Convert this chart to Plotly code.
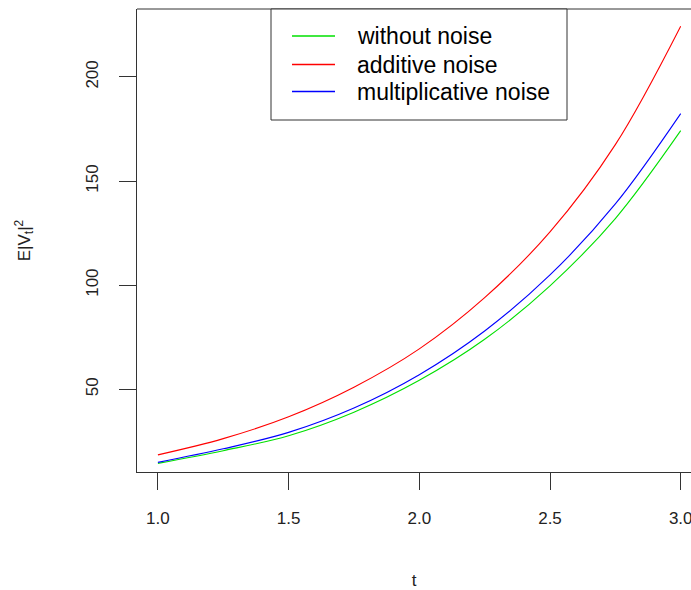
import plotly.graph_objects as go

# time grid and second moment E|V_t|^2 for the three cases
t = [1.0, 1.25, 1.5, 1.75, 2.0, 2.25, 2.5, 2.75, 3.0]
without_noise = [14.4, 20.5, 27.7, 39.0, 54.3, 74.0, 99.7, 132.0, 174.2]
additive_noise = [18.5, 26.3, 36.8, 51.0, 69.4, 94.0, 125.6, 167.5, 224.4]
multiplicative_noise = [14.9, 21.4, 29.3, 41.0, 57.0, 78.0, 104.9, 139.0, 182.4]

series_names = ["without noise", "additive noise", "multiplicative noise"]
series_values = [without_noise, additive_noise, multiplicative_noise]
series_colors = ["#00E000", "#FF0000", "#0000FF"]

x_ticks = [1.0, 1.5, 2.0, 2.5, 3.0]
x_tick_text = ["1.0", "1.5", "2.0", "2.5", "3.0"]
y_ticks = [50, 100, 150, 200]

W, H = 691, 590
ML, MR, MT, MB = 137, 0, 9, 118
PW, PH = W - ML - MR, H - MT - MB

FONT = "Liberation Sans, Arial, sans-serif"
AXIS_COLOR = "#333333"


def px_x(px):
    return (px - ML) / PW


def px_y(py):
    return (H - MB - py) / PH


# y range padded by 4% of the additive-noise range (R style)
ymin, ymax = min(additive_noise), max(additive_noise)
pad = 0.04 * (ymax - ymin)
y_range = [ymin - pad, ymax + pad]
x_range = [1.0 - 0.08, 3.0 + (W - 680.7) / 261.2]

fig = go.Figure()
for name, vals, col in zip(series_names, series_values, series_colors):
    fig.add_trace(go.Scatter(
        x=t, y=vals, mode="lines", name=name,
        line=dict(color=col, width=1.1, shape="spline", smoothing=1.0),
        showlegend=False,
    ))

shapes = [
    # top edge of the frame (left/bottom come from the axis lines)
    dict(type="line", xref="paper", yref="paper", x0=0, x1=1.05, y0=1, y1=1,
         line=dict(color=AXIS_COLOR, width=1)),
    # legend frame
    dict(type="rect", xref="paper", yref="paper",
         x0=px_x(271), x1=px_x(567), y0=px_y(120), y1=px_y(9),
         line=dict(color=AXIS_COLOR, width=1), fillcolor="white", layer="above"),
]
annotations = []
legend_rows = [36, 64.5, 91.5]
for name, col, ry in zip(series_names, series_colors, legend_rows):
    shapes.append(dict(type="line", xref="paper", yref="paper",
                       x0=px_x(292), x1=px_x(335), y0=px_y(ry), y1=px_y(ry),
                       line=dict(color=col, width=1.6), layer="above"))
    annotations.append(dict(xref="paper", yref="paper", x=px_x(355), y=px_y(ry),
                            text=name, showarrow=False, xanchor="left", yanchor="middle",
                            font=dict(family=FONT, size=23, color="black")))

fig.update_layout(
    width=W, height=H,
    margin=dict(l=ML, r=MR, t=MT, b=MB, pad=0),
    paper_bgcolor="white", plot_bgcolor="white",
    font=dict(family=FONT, size=17, color="#222222"),
    shapes=shapes, annotations=annotations,
    xaxis=dict(
        range=x_range, tickvals=x_ticks, ticktext=x_tick_text,
        showgrid=False, zeroline=False,
        showline=True, linecolor=AXIS_COLOR, linewidth=1,
        ticks="outside", ticklen=17, tickcolor=AXIS_COLOR, tickwidth=1,
        ticklabelstandoff=14, ticklabeloverflow="allow",
        title=dict(text="t", standoff=46, font=dict(size=17)),
        automargin=False,
    ),
    yaxis=dict(
        range=y_range, tickvals=y_ticks,
        showgrid=False, zeroline=False,
        showline=True, linecolor=AXIS_COLOR, linewidth=1,
        ticks="outside", ticklen=17, tickcolor=AXIS_COLOR, tickwidth=1,
        tickangle=-90, ticklabelstandoff=14,
        title=dict(text="E|V<sub>t</sub>|<sup>2</sup>", standoff=48, font=dict(size=17)),
        automargin=False,
    ),
)

fig.write_html("out.html")
